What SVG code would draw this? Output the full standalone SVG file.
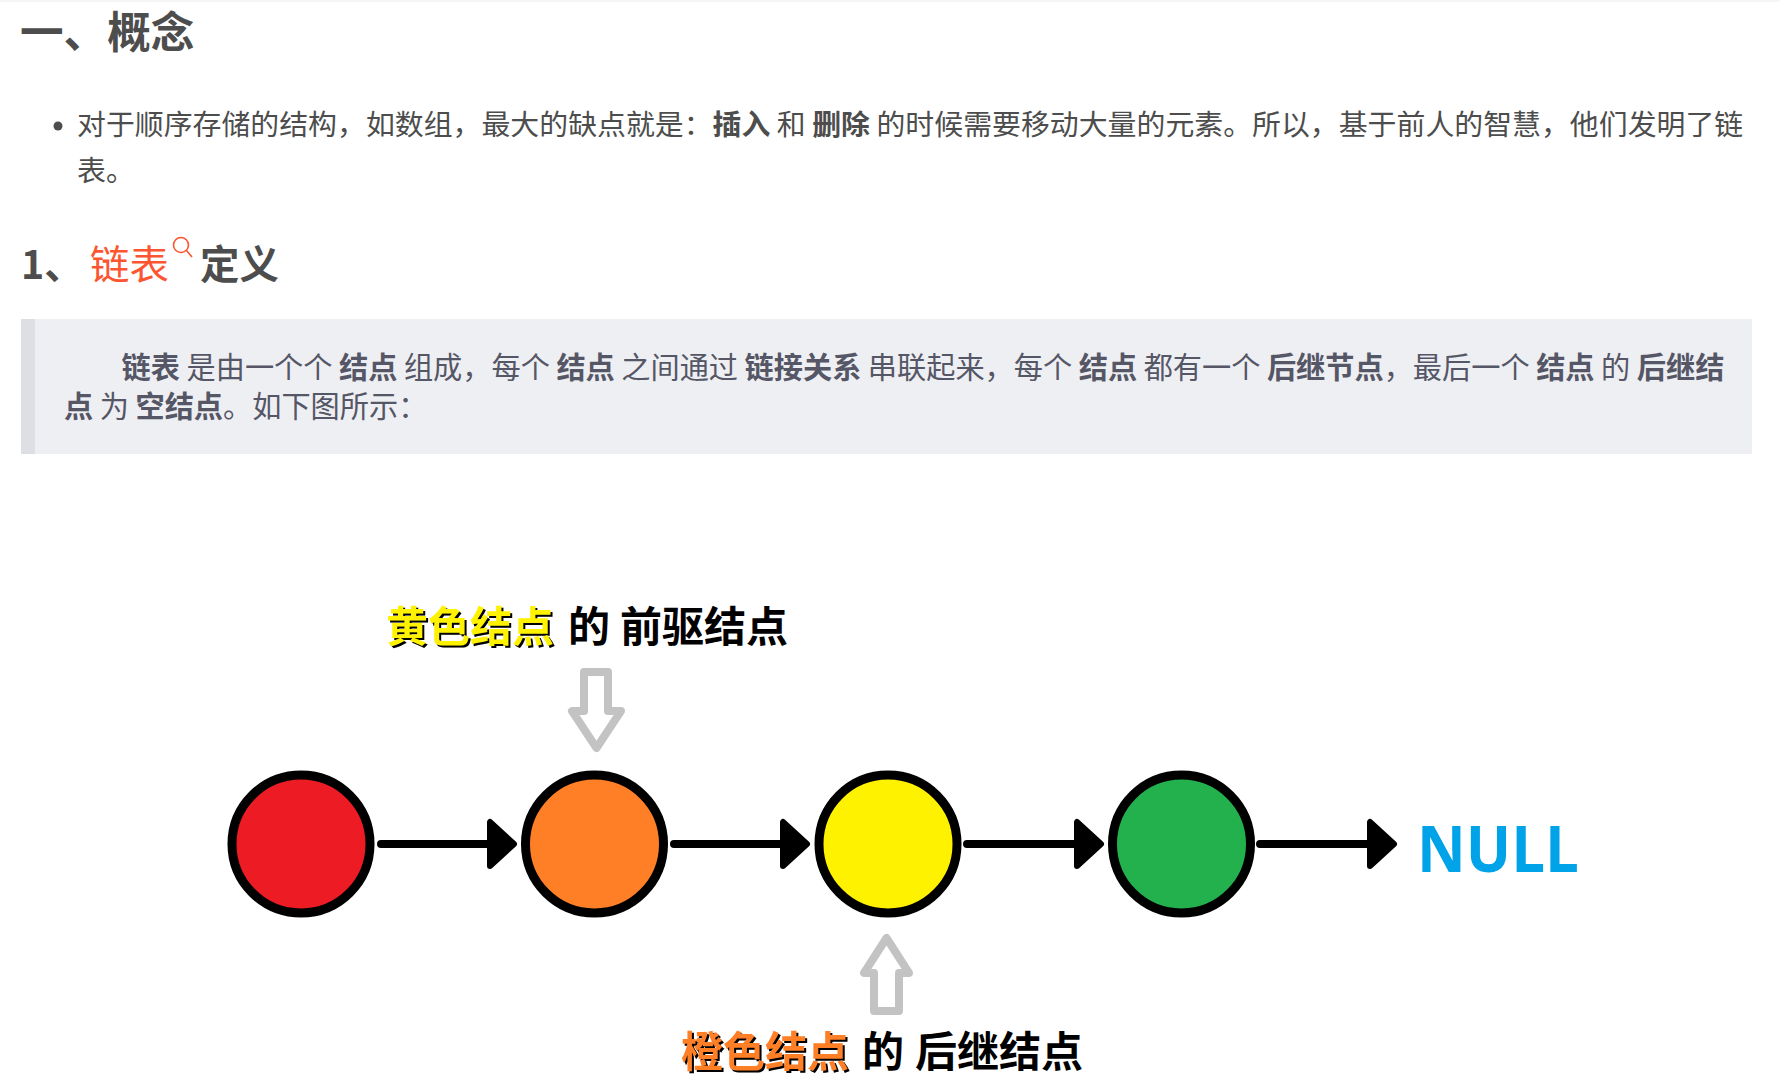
<svg xmlns="http://www.w3.org/2000/svg" width="1780" height="1092" viewBox="0 0 1780 1092">
<style>
text{font-family:"Noto Sans CJK SC","Noto Sans",sans-serif;white-space:pre}
.h1{font-size:43.6px;font-weight:700;fill:#4d4d4d}
.h2{font-size:39.4px;font-weight:700;fill:#4d4d4d}
.p{font-size:28.9px;fill:#4d4d4d}
.q{font-size:29.2px;fill:#555666}
.b{font-weight:700}
.cap{font-size:42px;font-weight:700;fill:#000}
.node{stroke:#000;stroke-width:9}
.link{stroke:#000;stroke-width:8;stroke-linecap:round;fill:none}
.head{fill:#000;stroke:#000;stroke-width:6;stroke-linejoin:round}
.hollow{fill:none;stroke:#c3c3c3;stroke-width:8;stroke-linejoin:round}
.sh{filter:drop-shadow(2px 2px 0 #000)}
</style>
<rect width="1780" height="1092" fill="#fff"/>
<rect width="1780" height="2" fill="#f6f6f6"/>
<text id="h1" class="h1" x="20" y="48">一、概念</text>
<circle cx="58" cy="126" r="4.5" fill="#4d4d4d"/>
<text id="p1" class="p" x="77" y="135">对于顺序存储的结构，如数组，最大的缺点就是：<tspan class="b">插入</tspan> 和 <tspan class="b">删除</tspan> 的时候需要移动大量的元素。所以，基于前人的智慧，他们发明了链</text>
<text id="p2" class="p" x="77" y="181">表。</text>
<text id="h2a" class="h2" x="21" y="279">1、</text>
<text id="h2b" class="h2" x="90" y="279" style="fill:#fc5531;font-weight:400">链表</text>
<g id="search-icon" fill="none" stroke="#fc5531" stroke-width="1.6"><circle cx="181" cy="245" r="7.5"/><path d="M186.5 250.5L192 257"/></g>
<text id="h2c" class="h2" x="200" y="279">定义</text>
<g id="quote">
<rect x="21" y="319" width="1731" height="135" fill="#eeeff3"/>
<rect x="21" y="319" width="14" height="135" fill="#dddfe4"/>
<text class="q" x="121.6" y="378"><tspan class="b">链表</tspan> 是由一个个 <tspan class="b">结点</tspan> 组成，每个 <tspan class="b">结点</tspan> 之间通过 <tspan class="b">链接关系</tspan> 串联起来，每个 <tspan class="b">结点</tspan> 都有一个 <tspan class="b">后继节点</tspan>，最后一个 <tspan class="b">结点</tspan> 的 <tspan class="b">后继结</tspan></text>
<text class="q" x="64" y="417"><tspan class="b">点</tspan> 为 <tspan class="b">空结点</tspan>。如下图所示：</text>
</g>
<g id="connectors">
<path class="link" d="M381 844H488M674 844H781M967 844H1074M1260 844H1367"/>
<path class="head" d="M490 822V866L514 844Z"/>
<path class="head" d="M783 822V866L807 844Z"/>
<path class="head" d="M1077 822V866L1101 844Z"/>
<path class="head" d="M1370 822V866L1394 844Z"/>
</g>
<g id="node-red"><circle class="node" cx="301" cy="844" r="69" fill="#ed1c24"/></g>
<g id="node-orange"><circle class="node" cx="594.5" cy="844" r="69" fill="#ff7f27"/></g>
<g id="node-yellow"><circle class="node" cx="888" cy="844" r="69" fill="#fff200"/></g>
<g id="node-green"><circle class="node" cx="1181.5" cy="844" r="69" fill="#22b14c"/></g>
<g id="null"><text x="1417" y="872" textLength="162" lengthAdjust="spacingAndGlyphs" style="font-family:'Open Sans',sans-serif;font-size:64px;font-weight:700;fill:#00a2e8">NULL</text></g>
<g id="pointer-down"><path class="hollow" d="M584 672H608V711H621L596.5 748L572 711H584Z"/></g>
<g id="pointer-up"><path class="hollow" d="M874 1011H899V973H909L886.5 938L864 973H874Z"/></g>
<g id="label-top">
<text class="cap sh" x="386" y="642" style="fill:#fff200">黄色结点</text>
<text class="cap" x="568" y="642">的</text>
<text class="cap" x="620" y="642">前驱结点</text>
</g>
<g id="label-bottom">
<text class="cap sh" x="681" y="1067" style="fill:#ff7f27">橙色结点</text>
<text class="cap" x="862" y="1067">的</text>
<text class="cap" x="915" y="1067">后继结点</text>
</g>
</svg>
